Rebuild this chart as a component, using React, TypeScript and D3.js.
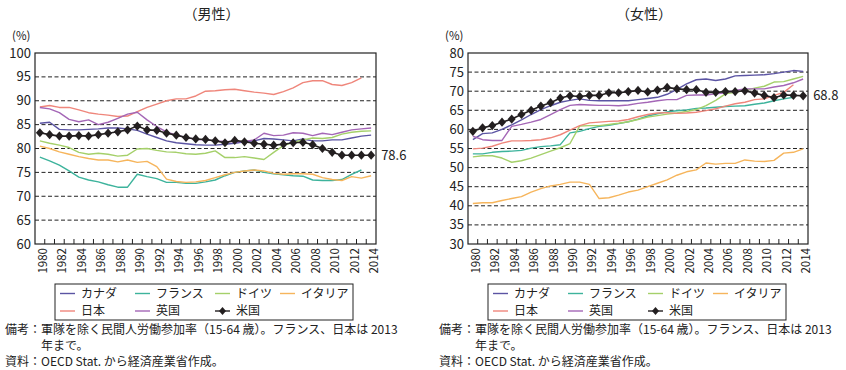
import React, { useRef, useEffect } from "react";
import * as d3 from "d3";

const years = [
  1980, 1981, 1982, 1983, 1984, 1985, 1986, 1987, 1988, 1989,
  1990, 1991, 1992, 1993, 1994, 1995, 1996, 1997, 1998, 1999,
  2000, 2001, 2002, 2003, 2004, 2005, 2006, 2007, 2008, 2009,
  2010, 2011, 2012, 2013, 2014,
];

const countries = ["カナダ", "フランス", "ドイツ", "イタリア", "日本", "英国", "米国"];

// 男性
const maleCanada = [85.3, 85.5, 84.0, 83.9, 83.9, 84.0, 84.1, 84.3, 84.3, 84.1, 83.8, 83.0, 82.3, 81.6, 81.2, 81.0, 80.8, 80.7, 80.7, 80.9, 81.1, 81.4, 81.6, 82.1, 82.0, 81.8, 81.6, 82.0, 81.6, 81.6, 81.8, 81.8, 82.2, 82.6, 82.8];
const maleFrance = [78.2, 77.4, 76.5, 75.3, 74.0, 73.4, 73.0, 72.4, 71.9, 71.9, 74.6, 74.1, 73.7, 72.9, 72.9, 72.7, 72.7, 73.0, 73.4, 74.3, 75.0, 75.3, 75.5, 75.0, 74.7, 74.5, 74.3, 74.2, 73.4, 73.3, 73.3, 73.5, 74.6, 75.5];
const maleGermany = [81.6, 81.1, 80.7, 80.2, 79.2, 78.8, 79.0, 78.8, 78.4, 78.6, 79.9, 80.0, 79.6, 79.3, 79.2, 78.9, 78.8, 79.0, 79.5, 78.1, 78.1, 78.3, 78.0, 77.7, 79.2, 80.6, 81.3, 81.8, 82.2, 82.1, 82.3, 83.0, 83.4, 83.6, 83.7];
const maleItaly = [80.5, 80.0, 79.3, 78.8, 78.3, 77.9, 77.6, 77.6, 77.2, 77.6, 77.1, 77.3, 76.2, 73.6, 73.1, 72.9, 73.0, 73.3, 73.9, 74.5, 75.0, 75.3, 75.5, 75.3, 74.8, 74.6, 74.7, 74.7, 74.6, 73.9, 73.5, 73.3, 74.1, 73.8, 74.3];
const maleJapan = [88.7, 89.0, 88.6, 88.6, 88.1, 87.5, 87.2, 87.0, 86.7, 86.8, 87.7, 88.6, 89.3, 90.0, 90.4, 90.4, 91.0, 92.0, 92.1, 92.3, 92.4, 92.1, 91.8, 91.6, 91.3, 91.9, 92.7, 93.8, 94.2, 94.2, 93.4, 93.2, 93.8, 94.8];
const maleUK = [88.6, 88.3, 87.5, 86.1, 85.6, 86.0, 85.0, 85.5, 86.3, 87.2, 87.6, 86.0, 84.6, 83.5, 82.8, 82.3, 81.9, 81.8, 81.6, 81.5, 81.4, 81.5, 81.8, 83.2, 82.7, 82.8, 83.3, 83.2, 82.7, 83.2, 82.9, 83.4, 83.9, 84.1, 84.3];
const maleUS = [83.3, 82.9, 82.6, 82.6, 82.7, 82.6, 82.9, 83.2, 83.5, 83.9, 84.7, 83.9, 83.8, 83.2, 82.8, 82.3, 82.0, 81.9, 81.6, 81.2, 81.7, 81.4, 81.1, 80.9, 80.7, 80.9, 81.2, 81.3, 80.8, 80.0, 79.2, 78.6, 78.6, 78.6, 78.6];

// 女性
const femaleCanada = [57.3, 58.9, 59.1, 60.0, 61.2, 62.5, 63.9, 65.2, 66.2, 67.1, 67.6, 68.0, 67.6, 67.5, 67.5, 67.5, 67.5, 67.8, 68.1, 68.4, 69.2, 70.5, 71.9, 73.0, 73.2, 72.8, 73.2, 74.0, 74.1, 74.2, 74.3, 74.6, 75.0, 75.4, 75.2];
const femaleFrance = [53.6, 53.6, 54.0, 54.2, 54.3, 54.5, 55.1, 55.5, 55.7, 56.0, 59.1, 59.5, 60.2, 60.8, 61.1, 61.5, 62.0, 62.7, 63.5, 64.1, 64.6, 64.9, 65.1, 65.5, 65.6, 65.8, 66.0, 66.1, 66.2, 66.6, 66.9, 67.5, 68.0, 68.4];
const femaleGermany = [52.8, 53.1, 53.1, 52.5, 51.4, 51.8, 52.5, 53.4, 54.3, 55.2, 56.3, 60.9, 61.0, 61.0, 61.3, 61.6, 62.0, 62.6, 63.2, 63.6, 64.0, 64.3, 64.7, 65.2, 66.2, 67.6, 69.3, 69.7, 70.2, 70.8, 71.3, 72.4, 72.5, 73.2, 73.9];
const femaleItaly = [40.6, 40.8, 40.8, 41.4, 41.9, 42.4, 43.6, 44.5, 45.2, 45.6, 46.2, 46.2, 45.6, 41.9, 42.1, 42.8, 43.6, 44.1, 45.0, 45.9, 46.8, 48.0, 48.9, 49.4, 51.2, 50.9, 51.1, 51.1, 52.0, 51.7, 51.6, 51.9, 53.8, 54.0, 54.9];
const femaleJapan = [54.9, 55.1, 55.6, 56.4, 57.0, 57.0, 57.1, 57.3, 57.8, 58.6, 59.8, 61.0, 61.7, 61.9, 62.1, 62.2, 62.6, 63.3, 63.9, 64.3, 64.4, 64.2, 64.3, 64.5, 64.9, 65.4, 66.1, 66.7, 67.1, 67.8, 68.0, 68.9, 69.7, 71.7];
const femaleUK = [58.2, 57.3, 57.1, 57.1, 60.8, 61.3, 61.9, 62.6, 63.9, 65.2, 66.3, 66.5, 66.4, 66.3, 66.3, 66.2, 66.4, 66.8, 67.1, 67.5, 67.8, 67.8, 68.9, 69.0, 69.0, 69.3, 69.6, 70.2, 70.6, 70.6, 70.6, 71.1, 71.5, 72.2, 73.2];
const femaleUS = [59.5, 60.4, 61.0, 61.9, 62.7, 63.9, 65.0, 66.1, 67.0, 68.2, 68.8, 68.6, 68.9, 68.9, 69.6, 69.6, 69.9, 70.2, 69.8, 70.3, 71.0, 70.6, 70.4, 70.4, 69.7, 69.7, 69.9, 69.9, 70.1, 69.5, 68.9, 68.3, 69.0, 68.9, 68.8];

const maleTicks = [60, 65, 70, 75, 80, 85, 90, 95, 100];
const femaleTicks = [30, 35, 40, 45, 50, 55, 60, 65, 70, 75, 80];

const colors = ["#5b54a3", "#3db39c", "#a5d06a", "#f6b55c", "#ef867b", "#a466b6", "#231f20"];

const FONT = "'Noto Sans CJK JP', 'Noto Sans', sans-serif";

type Panel = {
  title: string;
  left: number;
  right: number;
  ticks: number[];
  series: number[][];
  endLabel: string;
};

const panels: Panel[] = [
  {
    title: "（男性）",
    left: 35,
    right: 376,
    ticks: maleTicks,
    series: [maleCanada, maleFrance, maleGermany, maleItaly, maleJapan, maleUK, maleUS],
    endLabel: "78.6",
  },
  {
    title: "（女性）",
    left: 468,
    right: 808,
    ticks: femaleTicks,
    series: [femaleCanada, femaleFrance, femaleGermany, femaleItaly, femaleJapan, femaleUK, femaleUS],
    endLabel: "68.8",
  },
];

const top = 53;
const bottom = 244;

const diamond = "M0,-4.6L4,0L0,4.6L-4,0Z";

const App: React.FC = () => {
  const svgRef = useRef<SVGSVGElement | null>(null);

  useEffect(() => {
    if (!svgRef.current) return;
    const svg = d3.select(svgRef.current);
    svg.selectAll("*").remove();

    panels.forEach((p, pi) => {
      const g = svg.append("g");
      const x = d3.scaleBand<number>().domain(years).range([p.left, p.right]);
      const bw = x.bandwidth();
      const cx = (yr: number) => (x(yr) as number) + bw / 2;
      const y = d3
        .scaleLinear()
        .domain([p.ticks[0], p.ticks[p.ticks.length - 1]])
        .range([bottom, top]);

      // title and unit
      g.append("text")
        .attr("x", (p.left + p.right) / 2 + 6)
        .attr("y", 19)
        .attr("text-anchor", "middle")
        .attr("font-size", 14)
        .text(p.title);
      g.append("text")
        .attr("x", p.left - 23)
        .attr("y", 40)
        .attr("font-size", 11.5)
        .text("(%)");

      // gridlines
      g.selectAll(".grid")
        .data(p.ticks.slice(1, -1))
        .enter()
        .append("line")
        .attr("x1", p.left)
        .attr("x2", p.right)
        .attr("y1", (d) => y(d))
        .attr("y2", (d) => y(d))
        .attr("stroke", "#222")
        .attr("stroke-width", 1)
        .attr("stroke-dasharray", "4,2.5");

      // y labels
      g.selectAll(".ylab")
        .data(p.ticks)
        .enter()
        .append("text")
        .attr("x", p.left - 4)
        .attr("y", (d) => y(d))
        .attr("dy", "0.35em")
        .attr("text-anchor", "end")
        .attr("font-size", 13)
        .text((d) => d);

      // x ticks at band edges
      g.selectAll(".xtick")
        .data(years.slice(1))
        .enter()
        .append("line")
        .attr("x1", (d) => x(d) as number)
        .attr("x2", (d) => x(d) as number)
        .attr("y1", bottom)
        .attr("y2", bottom - 5)
        .attr("stroke", "#222");

      // x labels (every other year)
      g.selectAll(".xlab")
        .data(years.filter((d) => d % 2 === 0))
        .enter()
        .append("text")
        .attr("transform", (d) => `translate(${cx(d) + 3},${bottom + 4}) rotate(-90)`)
        .attr("dy", "0.35em")
        .attr("text-anchor", "end")
        .attr("font-size", 11.5)
        .text((d) => d);

      // lines
      const line = d3
        .line<number>()
        .x((_, i) => cx(years[i]))
        .y((d) => y(d));

      p.series.forEach((s, si) => {
        g.append("path")
          .attr("d", line(s) as string)
          .attr("fill", "none")
          .attr("stroke", colors[si])
          .attr("stroke-width", si === 6 ? 1.6 : 1.4)
          .attr("stroke-linejoin", "round");
      });

      const us = p.series[6];
      g.selectAll(".dia")
        .data(us)
        .enter()
        .append("path")
        .attr("d", diamond)
        .attr("transform", (d, i) => `translate(${cx(years[i])},${y(d)})`)
        .attr("fill", colors[6]);

      g.append("text")
        .attr("x", cx(years[years.length - 1]) + 10)
        .attr("y", y(us[us.length - 1]))
        .attr("dy", "0.35em")
        .attr("font-size", 13)
        .text(p.endLabel);

      // frame
      g.append("rect")
        .attr("x", p.left)
        .attr("y", top)
        .attr("width", p.right - p.left)
        .attr("height", bottom - top)
        .attr("fill", "none")
        .attr("stroke", "#222")
        .attr("stroke-width", 1.2);

      // legend
      const lx = p.left + 20;
      const lg = g.append("g").attr("transform", `translate(${lx},284)`);
      lg.append("rect")
        .attr("width", 298)
        .attr("height", 36)
        .attr("fill", "none")
        .attr("stroke", "#222")
        .attr("stroke-width", 1);
      const colX = [5, 80, 160, 225];
      countries.forEach((c, ci) => {
        const col = ci < 4 ? ci : ci - 4;
        const row = ci < 4 ? 0 : 1;
        const ix = colX[col];
        const iy = row === 0 ? 9.5 : 27;
        lg.append("line")
          .attr("x1", ix)
          .attr("x2", ix + 15)
          .attr("y1", iy)
          .attr("y2", iy)
          .attr("stroke", colors[ci])
          .attr("stroke-width", 1.4);
        if (ci === 6) {
          lg.append("path")
            .attr("d", "M0,-4L3.5,0L0,4L-3.5,0Z")
            .attr("transform", `translate(${ix + 7.5},${iy})`)
            .attr("fill", colors[6]);
        }
        lg.append("text")
          .attr("x", ix + 21)
          .attr("y", iy)
          .attr("dy", "0.36em")
          .attr("font-size", 12)
          .text(c);
      });

      // notes
      const nx = pi === 0 ? 5 : 439;
      const notes = g.append("g").attr("font-size", 12);
      notes.append("text").attr("x", nx).attr("y", 334).text("備考：");
      notes.append("text").attr("x", nx + 36).attr("y", 334).text("軍隊を除く民間人労働参加率（15-64 歳）。フランス、日本は 2013");
      notes.append("text").attr("x", nx + 36).attr("y", 350).text("年まで。");
      notes.append("text").attr("x", nx).attr("y", 366).text("資料：");
      notes.append("text").attr("x", nx + 36).attr("y", 366).text("OECD Stat. から経済産業省作成。");
    });
  }, []);

  return (
    <svg
      ref={svgRef}
      width={846}
      height={370}
      style={{ position: "absolute", left: 0, top: 0, background: "#fff", fontFamily: FONT, fill: "#222" }}
    />
  );
};

export default App;
